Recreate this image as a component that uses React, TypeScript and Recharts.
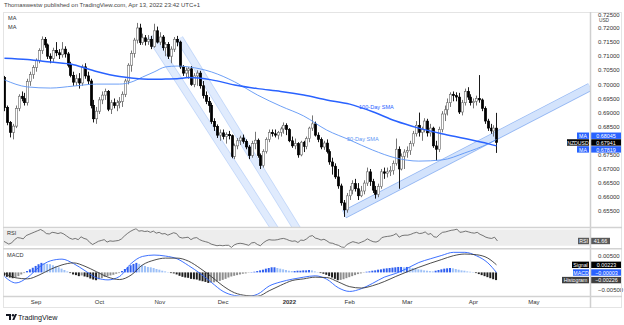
import React from 'react';
import { ComposedChart, Bar, Line, XAxis, YAxis, ReferenceLine, ReferenceArea, Cell } from 'recharts';

// NZD/USD daily candles, 17 Aug 2021 – 13 Apr 2022
const opens = [
  0.7025, 0.6918, 0.6865, 0.683, 0.6852, 0.6915, 0.6958, 0.695, 0.6935, 0.701,
  0.7035, 0.706, 0.7085, 0.712, 0.716, 0.714, 0.71, 0.7092, 0.712, 0.7112,
  0.7105, 0.7125, 0.7108, 0.7068, 0.7032, 0.7008, 0.702, 0.7005, 0.7062, 0.703,
  0.7012, 0.6925, 0.6878, 0.6905, 0.6945, 0.6962, 0.6975, 0.6912, 0.6935, 0.6925,
  0.6935, 0.694, 0.6965, 0.7012, 0.7068, 0.711, 0.7157, 0.72, 0.7148, 0.7165,
  0.7152, 0.716, 0.7135, 0.719, 0.715, 0.7168, 0.713, 0.7142, 0.71, 0.7125,
  0.716, 0.715, 0.7062, 0.704, 0.705, 0.7055, 0.7, 0.703, 0.704, 0.6995,
  0.696, 0.694, 0.6925, 0.6868, 0.685, 0.682, 0.6828, 0.6815, 0.6822, 0.6818,
  0.6745, 0.6782, 0.68, 0.681, 0.6798, 0.6778, 0.6748, 0.679, 0.6802, 0.6748,
  0.6712, 0.6762, 0.6805, 0.683, 0.6825, 0.682, 0.683, 0.6842, 0.6855, 0.684,
  0.68, 0.6782, 0.679, 0.675, 0.6795, 0.678, 0.6808, 0.6845, 0.686, 0.682,
  0.6805, 0.6778, 0.6792, 0.6762, 0.6725, 0.671, 0.6672, 0.664, 0.658, 0.6555,
  0.6605, 0.6625, 0.6648, 0.663, 0.6605, 0.6622, 0.665, 0.669, 0.6655, 0.6625,
  0.661, 0.6638, 0.669, 0.6685, 0.669, 0.6695, 0.672, 0.677, 0.67, 0.6745,
  0.676, 0.6765, 0.679, 0.6825, 0.6855, 0.683, 0.684, 0.687, 0.6828, 0.6845,
  0.6782, 0.677, 0.684, 0.6895, 0.691, 0.6935, 0.6965, 0.696, 0.6955, 0.6902,
  0.6935, 0.6975, 0.6955, 0.6935, 0.694, 0.695, 0.6945, 0.6915, 0.687, 0.6845,
  0.6835, 0.6845,
];
const highs = [
  0.703, 0.6925, 0.687, 0.686, 0.6925, 0.6965, 0.6975, 0.697, 0.702, 0.7045,
  0.7068, 0.7092, 0.7128, 0.717, 0.7168, 0.7145, 0.711, 0.713, 0.715, 0.7125,
  0.715, 0.7135, 0.7115, 0.708, 0.7045, 0.7035, 0.704, 0.707, 0.7075, 0.7045,
  0.702, 0.6945, 0.692, 0.6955, 0.6975, 0.6985, 0.698, 0.6945, 0.695, 0.6945,
  0.6955, 0.6975, 0.702, 0.7075, 0.712, 0.7165, 0.7218, 0.7215, 0.718, 0.7175,
  0.7175, 0.7172, 0.7215, 0.7205, 0.7185, 0.7175, 0.715, 0.715, 0.7135, 0.7168,
  0.7172, 0.7155, 0.7068, 0.706, 0.7062, 0.7065, 0.704, 0.705, 0.7048, 0.7012,
  0.6975, 0.6955, 0.6935, 0.688, 0.6858, 0.684, 0.684, 0.683, 0.6835, 0.6822,
  0.679, 0.681, 0.6818, 0.6822, 0.6805, 0.6785, 0.68, 0.6832, 0.6808, 0.6755,
  0.677, 0.6812, 0.684, 0.684, 0.684, 0.6835, 0.685, 0.6865, 0.6862, 0.6845,
  0.6815, 0.6808, 0.6795, 0.68, 0.68, 0.6815, 0.685, 0.689, 0.6868, 0.683,
  0.6812, 0.68, 0.6805, 0.677, 0.674, 0.672, 0.67, 0.6648, 0.659, 0.6615,
  0.664, 0.666, 0.6665, 0.665, 0.664, 0.666, 0.6705, 0.67, 0.6665, 0.664,
  0.6648, 0.67, 0.6705, 0.6705, 0.671, 0.673, 0.6808, 0.678, 0.6755, 0.677,
  0.678, 0.68, 0.6835, 0.687, 0.69, 0.685, 0.688, 0.6878, 0.686, 0.685,
  0.68, 0.685, 0.6905, 0.6925, 0.695, 0.6972, 0.6975, 0.6972, 0.697, 0.6945,
  0.6985, 0.699, 0.6965, 0.695, 0.696, 0.7033, 0.695, 0.6922, 0.6878, 0.686,
  0.6855, 0.6899,
];
const lows = [
  0.6905, 0.6855, 0.6812, 0.6805, 0.6845, 0.6905, 0.694, 0.6925, 0.6925, 0.6995,
  0.702, 0.7045, 0.7075, 0.7108, 0.713, 0.709, 0.7075, 0.708, 0.71, 0.709,
  0.7095, 0.7095, 0.706, 0.7025, 0.6995, 0.6995, 0.6985, 0.6995, 0.702, 0.7,
  0.6915, 0.6865, 0.686, 0.6895, 0.693, 0.6945, 0.6905, 0.6895, 0.6915, 0.6905,
  0.6915, 0.692, 0.6955, 0.7, 0.7045, 0.7095, 0.7145, 0.714, 0.714, 0.7138,
  0.714, 0.7125, 0.713, 0.7145, 0.714, 0.712, 0.71, 0.709, 0.7075, 0.7115,
  0.7135, 0.7055, 0.703, 0.7025, 0.702, 0.6995, 0.699, 0.6995, 0.6985, 0.695,
  0.693, 0.69, 0.686, 0.6835, 0.681, 0.68, 0.6805, 0.679, 0.6805, 0.6738,
  0.6735, 0.677, 0.6785, 0.679, 0.677, 0.6735, 0.674, 0.677, 0.674, 0.67,
  0.6705, 0.6755, 0.6795, 0.6815, 0.6812, 0.6805, 0.6815, 0.6825, 0.682, 0.6795,
  0.6775, 0.677, 0.674, 0.6745, 0.676, 0.677, 0.6795, 0.6835, 0.6815, 0.6795,
  0.677, 0.6768, 0.6755, 0.6715, 0.668, 0.6665, 0.663, 0.657, 0.653, 0.6545,
  0.659, 0.661, 0.662, 0.659, 0.66, 0.661, 0.664, 0.664, 0.6615, 0.6595,
  0.66, 0.663, 0.6665, 0.667, 0.6675, 0.668, 0.6712, 0.663, 0.6695, 0.67,
  0.674, 0.675, 0.678, 0.6815, 0.6815, 0.68, 0.683, 0.6815, 0.6815, 0.6775,
  0.673, 0.676, 0.683, 0.687, 0.689, 0.692, 0.694, 0.694, 0.6895, 0.689,
  0.6925, 0.6945, 0.6925, 0.6915, 0.6925, 0.6935, 0.6905, 0.686, 0.6835, 0.6825,
  0.6815, 0.6757,
];
const closes = [
  0.6918, 0.6865, 0.683, 0.6852, 0.6915, 0.6958, 0.695, 0.6935, 0.701, 0.7035,
  0.706, 0.7085, 0.712, 0.716, 0.714, 0.71, 0.7092, 0.712, 0.7112, 0.7105,
  0.7125, 0.7108, 0.7068, 0.7032, 0.7008, 0.702, 0.7005, 0.7062, 0.703, 0.7012,
  0.6925, 0.6878, 0.6905, 0.6945, 0.6962, 0.6975, 0.6912, 0.6935, 0.6925, 0.6935,
  0.694, 0.6965, 0.7012, 0.7068, 0.711, 0.7157, 0.72, 0.7148, 0.7165, 0.7152,
  0.716, 0.7135, 0.719, 0.715, 0.7168, 0.713, 0.7142, 0.71, 0.7125, 0.716,
  0.715, 0.7062, 0.704, 0.705, 0.7055, 0.7, 0.703, 0.704, 0.6995, 0.696,
  0.694, 0.6925, 0.6868, 0.685, 0.682, 0.6828, 0.6815, 0.6822, 0.6818, 0.6745,
  0.6782, 0.68, 0.681, 0.6798, 0.6778, 0.6748, 0.679, 0.6802, 0.6748, 0.6712,
  0.6762, 0.6805, 0.683, 0.6825, 0.682, 0.683, 0.6842, 0.6855, 0.684, 0.68,
  0.6782, 0.679, 0.675, 0.6795, 0.678, 0.6808, 0.6845, 0.686, 0.682, 0.6805,
  0.6778, 0.6792, 0.6762, 0.6725, 0.671, 0.6672, 0.664, 0.658, 0.6555, 0.6605,
  0.6625, 0.6648, 0.663, 0.6605, 0.6622, 0.665, 0.669, 0.6655, 0.6625, 0.661,
  0.6638, 0.669, 0.6685, 0.669, 0.6695, 0.672, 0.677, 0.67, 0.6745, 0.676,
  0.6765, 0.679, 0.6825, 0.6855, 0.683, 0.684, 0.687, 0.6828, 0.6845, 0.6782,
  0.677, 0.684, 0.6895, 0.691, 0.6935, 0.6965, 0.696, 0.6955, 0.6902, 0.6935,
  0.6975, 0.6955, 0.6935, 0.694, 0.695, 0.6945, 0.6915, 0.687, 0.6845, 0.6835,
  0.6845, 0.67941,
];

// simple moving averages, sampled at these bar numbers
const maBars = [0, 8, 16, 24, 32, 40, 44, 48, 52, 56, 60, 64, 72, 80, 88, 96, 104, 112, 120, 128, 136, 144, 152, 160, 168, 171];
const sma100 = [
  0.7093, 0.7088, 0.7079, 0.707, 0.7046, 0.7028, 0.7023, 0.7019, 0.7018, 0.7019, 0.702, 0.7024, 0.7016,
  0.6998, 0.6985, 0.6975, 0.6962, 0.6945, 0.693, 0.6903, 0.687, 0.6845, 0.6825, 0.6808, 0.679, 0.67819,
];
const sma50 = [
  0.7016, 0.6991, 0.6987, 0.6994, 0.7001, 0.7001, 0.7008, 0.7026, 0.7044, 0.7062, 0.7065, 0.7062, 0.7044,
  0.7009, 0.6962, 0.6923, 0.6888, 0.6838, 0.6803, 0.6767, 0.6739, 0.6728, 0.6732, 0.6757, 0.6789, 0.68045,
];

const rsi = [
  42, 38, 34, 37, 45, 50, 49, 47, 55, 58,
  61, 64, 67, 70, 66, 60, 59, 63, 62, 60,
  62, 59, 54, 49, 46, 48, 45, 52, 48, 46,
  38, 33, 37, 41, 43, 45, 39, 42, 41, 42,
  43, 47, 54, 60, 65, 69, 72, 66, 67, 65,
  66, 63, 66, 61, 63, 59, 60, 56, 59, 62,
  60, 51, 49, 50, 51, 45, 49, 50, 45, 42,
  40, 38, 34, 32, 30, 31, 30, 31, 31, 26,
  32, 35, 36, 35, 33, 31, 37, 38, 33, 30,
  37, 42, 45, 44, 44, 45, 47, 48, 46, 43,
  41, 42, 38, 44, 43, 47, 53, 55, 49, 47,
  44, 46, 42, 37, 36, 33, 31, 27, 26, 33,
  37, 40, 38, 36, 39, 42, 47, 43, 40, 39,
  42, 50, 52, 53, 54, 56, 60, 51, 55, 56,
  56, 58, 61, 63, 60, 61, 64, 58, 60, 52,
  51, 58, 63, 64, 66, 68, 69, 71, 63, 64,
  66, 64, 62, 61, 63, 58, 55, 51, 49, 48,
  51, 41.66,
];

// MACD (12, 26, 9) lines, sampled every fourth bar
const macdBars = [
  0, 4, 8, 12, 16, 20, 24, 28, 32, 36, 40, 44, 48, 52, 56, 60, 64, 68, 72, 76, 80, 84,
  88, 92, 96, 100, 104, 108, 112, 116, 120, 124, 128, 132, 136, 140, 144, 148, 152, 156, 160, 164, 168, 171,
];
const macdLine = [
  -0.0012, -0.0031, -0.0015, 0.0015, 0.0034, 0.0039, 0.0026, 0.0005, -0.0016, -0.0022, -0.0012, 0.0026,
  0.0047, 0.0051, 0.0048, 0.004, 0.002, -0.0003, -0.003, -0.0056, -0.0068, -0.0071, -0.0064, -0.004,
  -0.0028, -0.002, -0.0014, -0.001, -0.002, -0.0045, -0.0056, -0.0048, -0.0032, -0.0014, -0.0003, 0.0012,
  0.0029, 0.004, 0.005, 0.0059, 0.0059, 0.0049, 0.0028, -0.00003,
];
const signalLine = [
  -0.0003, -0.0016, -0.0019, -0.0008, 0.0009, 0.0022, 0.0028, 0.0018, 0.0002, -0.0014, -0.0021, -0.0008,
  0.0022, 0.0036, 0.0042, 0.0042, 0.0033, 0.0012, -0.0013, -0.004, -0.006, -0.0068, -0.007, -0.0054,
  -0.0038, -0.0024, -0.0019, -0.0014, -0.0015, -0.0028, -0.0042, -0.0046, -0.0039, -0.0027, -0.0012, 0.0002,
  0.0015, 0.0027, 0.0038, 0.0049, 0.0054, 0.0052, 0.0042, 0.00223,
];
const histogram = [
  -0.001, -0.0013, -0.0015, -0.0017, -0.0015, -0.0011, -0.0006, -0.0002,
  0.0004, 0.0009, 0.0014, 0.0019, 0.0024, 0.0028,
  0.0027, 0.0025, 0.0024, 0.0021, 0.0018, 0.0015, 0.0011, 0.0007, 0.0003,
  -0.0002, -0.0006, -0.0008, -0.0011, -0.0009, -0.0012, -0.0014, -0.0018, -0.0021, -0.0023,
  -0.002, -0.0017, -0.0013, -0.0011, -0.0009, -0.0007, -0.0004, -0.0002,
  0.0004, 0.001, 0.0016, 0.0021, 0.0025, 0.0028,
  0.0025, 0.0022, 0.0019, 0.0016, 0.0015, 0.0013, 0.001, 0.0008, 0.0005, 0.0003, 0.0001,
  -0.0002, -0.0003, -0.0006, -0.001, -0.0013, -0.0015, -0.0016, -0.0019, -0.002, -0.0021, -0.0024, -0.0026, -0.0028, -0.0031,
  -0.003, -0.0029, -0.0027, -0.0025, -0.0022, -0.0019, -0.0015, -0.0012, -0.001, -0.0008, -0.0006, -0.0004, -0.0003, -0.0001,
  0.0001, 0.0002, 0.0004, 0.0006, 0.0008, 0.0011, 0.0013, 0.0015, 0.0015, 0.0013, 0.0011,
  0.0009, 0.0007, 0.0005, 0.0004, 0.0004, 0.0005,
  0.0005, 0.0006, 0.0006, 0.0007, 0.0006, 0.0003, 0.0001,
  -0.0002, -0.0004, -0.0007, -0.0011, -0.0015, -0.0019, -0.0023,
  -0.0022, -0.002, -0.0017, -0.0014, -0.0011, -0.0008, -0.0005, -0.0003, -0.0001,
  0.0002, 0.0003, 0.0005, 0.0006, 0.0008, 0.0009, 0.0011, 0.0012, 0.0013, 0.0014, 0.0015, 0.0016, 0.0016, 0.0015, 0.0016, 0.0015,
  0.0013, 0.0011, 0.0009, 0.0008, 0.0006, 0.0005, 0.0004, 0.0003,
  0.0005, 0.0007, 0.0009, 0.0011, 0.0012, 0.0013, 0.0012, 0.001,
  0.0008, 0.0006, 0.0005, 0.0003, 0.0002, 0.0001,
  -0.0002, -0.0005, -0.0008, -0.0011, -0.0014, -0.0017, -0.002, -0.00226,
];

const monthBars = [11, 33, 54, 76, 99, 120, 140, 163, 184];
const monthLabels = ['Sep', 'Oct', 'Nov', 'Dec', '2022', 'Feb', 'Mar', 'Apr', 'May'];
// 0.68000 sits behind the value tags, so it is left out of the scale
const priceTicks = [0.65, 0.655, 0.66, 0.665, 0.67, 0.675, 0.685, 0.69, 0.695, 0.7, 0.705, 0.71, 0.715, 0.72, 0.725];

// channel drawings: [fromBar, fromPrice, toBar, toPrice]
const downChannels = [
  [51, 0.71698, 100, 0.63926],
  [61, 0.7163, 108, 0.63828],
];
const upChannel = [118, 0.65388, 203, 0.6991];

const SLOTS = 204; // bars plus empty space to the right
const W = 624;
const PLOT_LEFT = 3;
const SCALE_W = 34;
const BLUE = '#2962ff';
const FONT = '"Liberation Sans", Arial, Helvetica, sans-serif';
const PRICE_DOMAIN = [0.64943, 0.72567];

const rows: any[] = Array.from({ length: SLOTS }, (_, i) => {
  const r: any = { i };
  if (i < closes.length) {
    r.open = opens[i];
    r.high = highs[i];
    r.low = lows[i];
    r.close = closes[i];
    r.rsi = rsi[i];
    r.hist = histogram[i];
  }
  return r;
});
maBars.forEach((b, k) => {
  rows[b].sma100 = sma100[k];
  rows[b].sma50 = sma50[k];
});
macdBars.forEach((b, k) => {
  rows[b].macd = macdLine[k];
  rows[b].signal = signalLine[k];
});

const fmt = (v: number, d: number) => (v < 0 ? '\u2212' : '') + Math.abs(v).toFixed(d);

const histColor = (i: number) => {
  const v = histogram[i];
  if (v == null) return 'none';
  const prev = i > 0 ? histogram[i - 1] : v;
  if (v >= 0) return v >= prev ? '#2f5ff0' : '#9dc0f7';
  return v <= prev ? '#1f1f1f' : '#8e8e8e';
};

const Candle = (props: any) => {
  const { x, y, width, height, payload } = props;
  if (!payload || payload.high == null) return null;
  const top = Math.min(y, y + height);
  const span = Math.abs(height);
  const range = payload.high - payload.low || 1;
  const toY = (v: number) => top + ((payload.high - v) / range) * span;
  const cx = Math.round(x + width / 2) + 0.5;
  const yo = toY(payload.open);
  const yc = toY(payload.close);
  const up = payload.close >= payload.open;
  const col = up ? '#666' : '#000';
  return (
    <g>
      <line x1={cx} x2={cx} y1={top} y2={top + span} stroke={col} strokeWidth={0.9} />
      <rect
        x={cx - 1.2}
        y={Math.min(yo, yc)}
        width={2.4}
        height={Math.max(Math.abs(yc - yo), 0.8)}
        fill={up ? '#fff' : '#000'}
        stroke={col}
        strokeWidth={0.6}
      />
    </g>
  );
};

// value tag on the price scale: caption left of the scale line, value right of it
const tag = (caption: string, text: string, bg: string, capW: number, valW: number, shift = 0) => (p: any) => {
  const vb = p.viewBox || {};
  const edge = vb.x + vb.width;
  const cy = vb.y + shift;
  return (
    <g>
      <rect x={edge - capW - 1} y={cy - 3.2} width={capW} height={6.4} fill={bg} />
      <text x={edge - 1 - capW / 2} y={cy + 0.2} fill="#fff" fontSize={5.2} textAnchor="middle" dominantBaseline="central">
        {caption}
      </text>
      <rect x={edge + 1} y={cy - 3.2} width={valW} height={6.4} fill={bg} />
      <text x={edge + 1 + valW / 2} y={cy + 0.2} fill="#fff" fontSize={5.4} textAnchor="middle" dominantBaseline="central">
        {text}
      </text>
    </g>
  );
};

const MonthTick = (p: any) => {
  const k = monthBars.indexOf(p.payload.value);
  if (k < 0) return <g />;
  return (
    <text x={p.x} y={p.y + 4} fontSize={6} fill="#333" textAnchor="middle" dominantBaseline="central" fontWeight={monthLabels[k] === '2022' ? 700 : 400}>
      {monthLabels[k]}
    </text>
  );
};

const bandLines = (c: number[], key: string, outer: string, inner: string, w: number) => [
  <ReferenceLine key={key + 'o'} segment={[{ x: c[0], y: c[1] }, { x: c[2], y: c[3] }]} stroke={outer} strokeWidth={w} ifOverflow="hidden" />,
  <ReferenceLine key={key + 'i'} segment={[{ x: c[0], y: c[1] }, { x: c[2], y: c[3] }]} stroke={inner} strokeWidth={w - 1.6} ifOverflow="hidden" />,
];

const lastClose = closes[closes.length - 1];
const last100 = sma100[sma100.length - 1];
const last50 = sma50[sma50.length - 1];
const lastRsi = rsi[rsi.length - 1];
const lastMacd = macdLine[macdLine.length - 1];
const lastSignal = signalLine[signalLine.length - 1];
const lastHist = histogram[histogram.length - 1];

const small: React.CSSProperties = { position: 'absolute', fontSize: 5.6, color: '#333', lineHeight: '7px', whiteSpace: 'nowrap' };
const layer: React.CSSProperties = { position: 'absolute', left: 0, top: 0 };

export default function App() {
  const margin = { top: 0, right: 0, left: PLOT_LEFT, bottom: 0 };
  return (
    <div style={{ position: 'absolute', left: 0, top: 0, width: W, height: 325, background: '#fff', fontFamily: FONT, overflow: 'hidden' }}>
      <div style={{ ...small, left: 4, top: 2, fontSize: 6, color: '#444' }}>
        Thomaswestw published on TradingView.com, Apr 13, 2022 23:42 UTC+1
      </div>

      <div style={{ position: 'absolute', left: 0, top: 12, width: W, height: 215 }}>
        {/* channel drawings sit underneath the candles */}
        <div style={layer}>
          <ComposedChart width={W} height={215} data={rows} margin={margin}>
            <XAxis dataKey="i" hide />
            <YAxis orientation="right" width={SCALE_W} domain={PRICE_DOMAIN} allowDataOverflow tick={false} axisLine={false} tickLine={false} />
            {downChannels.map((c, k) => bandLines(c, 'd' + k, '#c2d7f9', '#e0ebfd', 8))}
            {bandLines(upChannel, 'u', '#94b7f3', '#d3e3fc', 8.5)}
          </ComposedChart>
        </div>
        <div style={layer}>
          <ComposedChart width={W} height={215} data={rows} margin={margin}>
            <XAxis dataKey="i" hide />
            <YAxis
              orientation="right"
              width={SCALE_W}
              domain={PRICE_DOMAIN}
              allowDataOverflow
              ticks={priceTicks}
              tickFormatter={(v: number) => v.toFixed(5)}
              axisLine={false}
              tickLine={false}
              tick={{ fontSize: 6, fill: '#333' }}
            />
            <Line dataKey="sma50" stroke="#5d95f5" strokeWidth={0.9} dot={false} connectNulls type="monotone" isAnimationActive={false} />
            <Line dataKey="sma100" stroke={BLUE} strokeWidth={1.5} dot={false} connectNulls type="monotone" isAnimationActive={false} />
            <Bar dataKey={(r: any) => (r.high == null ? null : [r.low, r.high])} shape={Candle} barSize={3} isAnimationActive={false} />
            <ReferenceLine y={last50} stroke="none" label={tag('MA', last50.toFixed(5), BLUE, 12, 30, -3.8)} />
            <ReferenceLine y={lastClose} stroke="none" label={tag('NZDUSD', lastClose.toFixed(5), '#000', 22, 30)} />
            <ReferenceLine y={last100} stroke="none" label={tag('MA', last100.toFixed(5), BLUE, 12, 30, 3.5)} />
          </ComposedChart>
        </div>
      </div>

      <div style={{ position: 'absolute', left: 0, top: 228 }}>
        <ComposedChart width={W} height={20} data={rows} margin={margin}>
          <XAxis dataKey="i" hide />
          <YAxis orientation="right" width={SCALE_W} domain={[24.4, 73.7]} allowDataOverflow tick={false} axisLine={false} tickLine={false} />
          <ReferenceArea y1={30} y2={70} fill="#ededed" fillOpacity={1} stroke="none" />
          <Line dataKey="rsi" stroke="#555" strokeWidth={0.8} dot={false} isAnimationActive={false} />
          <ReferenceLine y={lastRsi} stroke="none" label={tag('RSI', lastRsi.toFixed(2), '#5a5a5a', 11, 19)} />
        </ComposedChart>
      </div>

      <div style={{ position: 'absolute', left: 0, top: 250 }}>
        <ComposedChart width={W} height={61} data={rows} margin={margin}>
          <XAxis dataKey="i" interval={0} tick={<MonthTick />} axisLine={false} tickLine={false} tickSize={0} height={15} />
          <YAxis
            orientation="right"
            width={SCALE_W}
            domain={[-0.006941, 0.006588]}
            allowDataOverflow
            ticks={[-0.005, 0.005]}
            tickFormatter={(v: number) => fmt(v, 5)}
            axisLine={false}
            tickLine={false}
            tick={{ fontSize: 6, fill: '#333' }}
          />
          <Bar dataKey="hist" barSize={2} isAnimationActive={false}>
            {rows.map((r) => (
              <Cell key={r.i} fill={histColor(r.i)} />
            ))}
          </Bar>
          <Line dataKey="macd" stroke={BLUE} strokeWidth={0.9} dot={false} connectNulls type="monotone" isAnimationActive={false} />
          <Line dataKey="signal" stroke="#3a3a3a" strokeWidth={0.9} dot={false} connectNulls type="monotone" isAnimationActive={false} />
          <ReferenceLine y={lastSignal} stroke="none" label={tag('Signal', fmt(lastSignal, 5), '#000', 17, 31)} />
          <ReferenceLine y={lastMacd} stroke="none" label={tag('MACD', fmt(lastMacd, 5), BLUE, 16, 31)} />
          <ReferenceLine y={lastHist} stroke="none" label={tag('Histogram', fmt(lastHist, 5), '#3f3f3f', 27, 31)} />
        </ComposedChart>
      </div>

      <svg width={W} height={325} style={{ position: 'absolute', left: 0, top: 0, pointerEvents: 'none' }}>
        <rect x={3.5} y={12.5} width={618} height={295} fill="none" stroke="#e4e4e4" />
        <line x1={590.5} x2={590.5} y1={12} y2={308} stroke="#cfcfcf" strokeWidth={1.5} />
        <line x1={3} x2={622} y1={227.5} y2={227.5} stroke="#d2d2d2" strokeWidth={1.6} />
        <line x1={3} x2={622} y1={248.8} y2={248.8} stroke="#d2d2d2" strokeWidth={1.6} />
        <line x1={3} x2={622} y1={296.5} y2={296.5} stroke="#d2d2d2" strokeWidth={1.4} />
        <text x={604} y={22} fontSize={4.8} fill="#444" textAnchor="middle">USD</text>
        <text x={8} y={20} fontSize={5.6} fill="#333">MA</text>
        <text x={8} y={29} fontSize={5.6} fill="#333">MA</text>
        <text x={7} y={235} fontSize={5.6} fill="#333">RSI</text>
        <text x={7} y={257} fontSize={5.6} fill="#333">MACD</text>
        <text x={359} y={109} fontSize={5.6} fill={BLUE}>100-Day SMA</text>
        <text x={347} y={141} fontSize={5.6} fill="#5d95f5">50-Day SMA</text>
        <g transform="translate(6,314)" fill="#131722">
          <rect x={0} y={0} width={5} height={2} />
          <rect x={3} y={0} width={2} height={6} />
          <circle cx={7} cy={1.3} r={1.2} />
          <path d="M6.2 6 L9 0 L11 0 L8.3 6 Z" />
        </g>
        <text x={18} y={320} fontSize={7.2} fill="#131722">TradingView</text>
      </svg>
    </div>
  );
}
